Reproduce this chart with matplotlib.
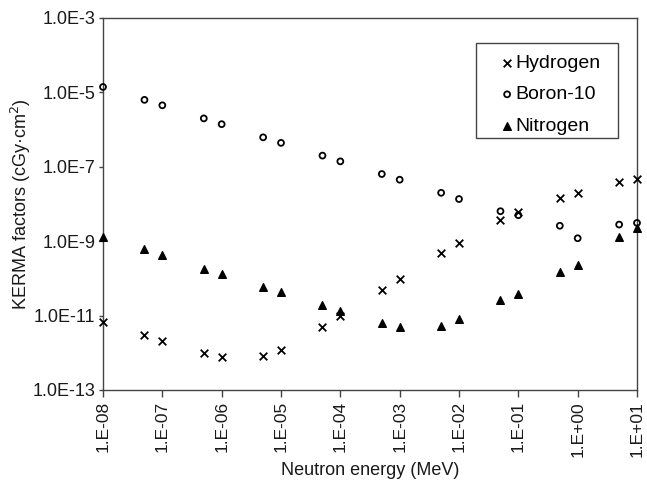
import matplotlib
matplotlib.use("Agg")
import matplotlib.pyplot as plt
from matplotlib.ticker import FixedLocator, NullLocator
from matplotlib.patches import Rectangle

plt.rcParams['font.family'] = ['Liberation Sans', 'DejaVu Sans']

# neutron energy (MeV)
energy = [1e-8, 5e-8, 1e-7, 5e-7, 1e-6, 5e-6, 1e-5, 5e-5, 1e-4, 5e-4,
          1e-3, 5e-3, 1e-2, 5e-2, 1e-1, 5e-1, 1.0, 5.0, 10.0]

# KERMA factors (cGy cm2)
hydrogen = [6.6e-12, 3.0e-12, 2.1e-12, 1.0e-12, 7.8e-13, 8.2e-13, 1.2e-12,
            5.0e-12, 1.0e-11, 4.9e-11, 9.8e-11, 4.7e-10, 9.1e-10, 3.7e-9,
            6.0e-9, 1.44e-8, 2.0e-8, 3.9e-8, 4.6e-8]
boron10 = [1.4e-5, 6.3e-6, 4.5e-6, 2.0e-6, 1.4e-6, 6.2e-7, 4.4e-7, 2.0e-7,
           1.4e-7, 6.4e-8, 4.5e-8, 2.0e-8, 1.36e-8, 6.4e-9, 5.0e-9, 2.6e-9,
           1.2e-9, 2.8e-9, 3.1e-9]
nitrogen = [1.26e-9, 6.0e-10, 4.2e-10, 1.8e-10, 1.34e-10, 5.8e-11, 4.2e-11,
            1.9e-11, 1.3e-11, 6.2e-12, 5.0e-12, 5.3e-12, 7.9e-12, 2.6e-11,
            3.8e-11, 1.5e-10, 2.3e-10, 1.26e-9, 2.2e-9]

xticks = [1e-8, 1e-7, 1e-6, 1e-5, 1e-4, 1e-3, 1e-2, 1e-1, 1.0, 10.0]
xlabels = ['1.E-08', '1.E-07', '1.E-06', '1.E-05', '1.E-04', '1.E-03',
           '1.E-02', '1.E-01', '1.E+00', '1.E+01']
yticks = [1e-13, 1e-11, 1e-9, 1e-7, 1e-5, 1e-3]
ylabels = ['1.0E-13', '1.0E-11', '1.0E-9', '1.0E-7', '1.0E-5', '1.0E-3']

fig = plt.figure(figsize=(6.47, 4.80), dpi=100)
ax = fig.add_axes([103 / 647, 90 / 480, 534 / 647, 372 / 480])

ax.scatter(energy, hydrogen, marker='x', s=30, color='black', linewidths=1.3,
           label='Hydrogen', clip_on=False, zorder=3)
ax.scatter(energy, boron10, marker='o', s=18, facecolors='none',
           edgecolors='black', linewidths=1.3, label='Boron-10', clip_on=False, zorder=3)
ax.scatter(energy, nitrogen, marker='^', s=30, color='black',
           label='Nitrogen', clip_on=False, zorder=3)

ax.set_xscale('log')
ax.set_yscale('log')
ax.set_xlim(1e-8, 10)
ax.set_ylim(1e-13, 1e-3)

ax.xaxis.set_major_locator(FixedLocator(xticks))
ax.xaxis.set_minor_locator(NullLocator())
ax.set_xticklabels(xlabels, rotation=90)
ax.yaxis.set_major_locator(FixedLocator(yticks))
ax.yaxis.set_minor_locator(NullLocator())
ax.set_yticklabels(ylabels)

ax.tick_params(axis='x', direction='out', length=5, width=1, color='#444444',
               labelsize=12.5, pad=3, labelcolor='#1a1a1a')
ax.tick_params(axis='y', direction='out', length=3, width=1, color='#444444',
               labelsize=13, pad=2.5, labelcolor='#1a1a1a')
for sp in ax.spines.values():
    sp.set_color('#444444')
    sp.set_linewidth(1.0)

ax.set_xlabel('Neutron energy (MeV)', fontsize=13, labelpad=4, color='#1a1a1a')
ax.set_ylabel('KERMA factors (cGy·cm$^2$)', fontsize=13, color='#1a1a1a')
ax.yaxis.set_label_coords(-0.131, 0.5)

# legend: entries plus a separate frame box
leg = ax.legend(loc='upper left', bbox_to_anchor=(0.6985, 0.933), borderaxespad=0,
                fontsize=14, frameon=False, handlelength=2.0, handletextpad=-0.6,
                borderpad=0.6, labelspacing=0.7)
ax.add_patch(Rectangle((0.6985, 0.677), 0.266, 0.256, transform=ax.transAxes,
                       fill=False, edgecolor='#444444', linewidth=1.0, zorder=4))

fig.savefig('out.png', dpi=100)
